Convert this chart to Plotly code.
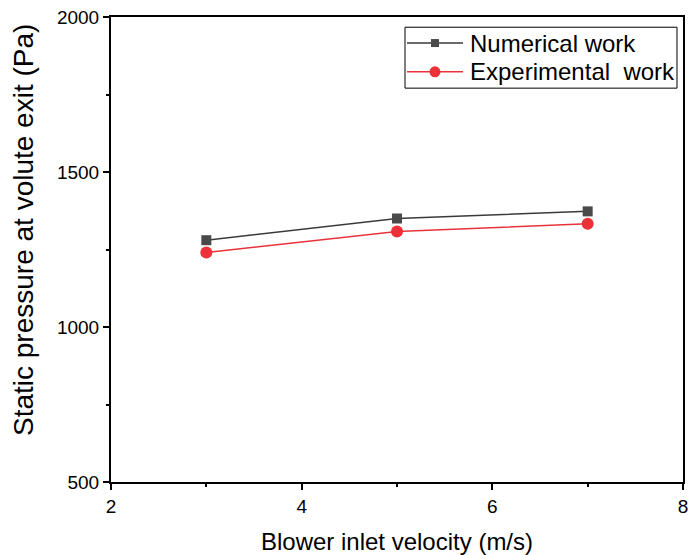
import plotly.graph_objects as go

# Blower inlet velocity (m/s)
velocity = [3, 5, 7]
# Static pressure at volute exit (Pa)
numerical = [1280, 1350, 1373]
experimental = [1240, 1308, 1333]

series_names = ["Numerical work", "Experimental  work"]
line_colors = ["#3a3a3a", "#e8323a"]
marker_colors = ["#4a4a4a", "#ec3238"]

font_family = "Liberation Sans, Arial, sans-serif"

fig = go.Figure()
fig.add_trace(go.Scatter(
    x=velocity, y=numerical, mode="lines+markers", name=series_names[0],
    line=dict(color=line_colors[0], width=1.5),
    marker=dict(symbol="square", size=10, color=marker_colors[0]),
))
fig.add_trace(go.Scatter(
    x=velocity, y=experimental, mode="lines+markers", name=series_names[1],
    line=dict(color=line_colors[1], width=1.5),
    marker=dict(symbol="circle", size=12, color=marker_colors[1]),
))

# Boxed legend in the upper-right corner (domain coordinates)
box_x0, box_x1, box_y0, box_y1 = 0.514, 0.9895, 0.847, 0.978
row_y = [0.944, 0.882]
sample_x0, sample_x1, sample_mid = 0.5175, 0.6154, 0.5664
text_x = 0.624

shapes = [dict(type="rect", xref="x domain", yref="y domain",
               x0=box_x0, x1=box_x1, y0=box_y0, y1=box_y1,
               line=dict(color="black", width=1), fillcolor="white", layer="above")]
annotations = []
for i, yy in enumerate(row_y):
    shapes.append(dict(type="line", xref="x domain", yref="y domain",
                       x0=sample_x0, x1=sample_x1, y0=yy, y1=yy,
                       line=dict(color=line_colors[i], width=1.5), layer="above"))
    half = 4 if i == 0 else 5.5
    shapes.append(dict(type="rect" if i == 0 else "circle",
                       xref="x domain", yref="y domain",
                       xsizemode="pixel", ysizemode="pixel",
                       xanchor=sample_mid, yanchor=yy,
                       x0=-half, x1=half, y0=-half, y1=half,
                       line=dict(color=marker_colors[i], width=0),
                       fillcolor=marker_colors[i], layer="above"))
    annotations.append(dict(xref="x domain", yref="y domain", x=text_x, y=yy,
                            xanchor="left", yanchor="middle", showarrow=False,
                            text=series_names[i],
                            font=dict(family=font_family, size=24, color="black")))

# Vertical axis title, placed slightly above the centre of the axis
annotations.append(dict(xref="paper", yref="paper", x=-0.152, y=0.542,
                        xanchor="center", yanchor="middle", showarrow=False,
                        textangle=-90, text="Static pressure at volute exit (Pa)",
                        font=dict(family=font_family, size=28, color="black")))

axis_common = dict(
    showline=True, linecolor="black", linewidth=2, mirror=True,
    showgrid=False, zeroline=False, automargin=False,
    ticks="outside", ticklen=6, tickwidth=1.5, tickcolor="black",
    ticklabeloverflow="allow",
    tickfont=dict(family=font_family, size=19, color="black"),
)

fig.update_layout(
    width=688, height=555,
    margin=dict(l=111, r=5, t=17, b=73),
    paper_bgcolor="white", plot_bgcolor="white",
    font=dict(family=font_family, color="black"),
    xaxis=dict(
        range=[2, 8], tickvals=[2, 4, 6, 8],
        minor=dict(tickvals=[3, 5, 7], ticks="outside", ticklen=3, tickcolor="black", tickwidth=1.5),
        title=dict(text="Blower inlet velocity (m/s)", font=dict(size=24), standoff=18),
        **axis_common,
    ),
    yaxis=dict(
        range=[500, 2000], tickvals=[500, 1000, 1500, 2000],
        minor=dict(tickvals=[750, 1250, 1750], ticks="outside", ticklen=3, tickcolor="black", tickwidth=1.5),
        **axis_common,
    ),
    shapes=shapes,
    annotations=annotations,
    showlegend=False,
)

fig.write_html("out.html")
